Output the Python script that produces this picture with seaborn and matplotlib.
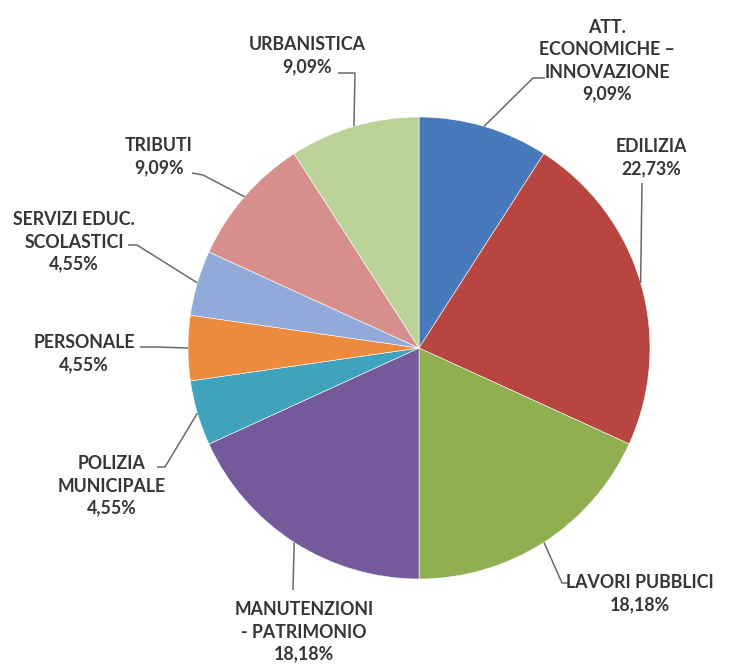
import numpy as np
import matplotlib
matplotlib.use("Agg")
import matplotlib.pyplot as plt
import seaborn as sns

# Share of items per office (percent), clockwise from 12 o'clock
categories = [
    "ATT.\nECONOMICHE –\nINNOVAZIONE",
    "EDILIZIA",
    "LAVORI PUBBLICI",
    "MANUTENZIONI\n- PATRIMONIO",
    "POLIZIA\nMUNICIPALE",
    "PERSONALE",
    "SERVIZI EDUC.\nSCOLASTICI",
    "TRIBUTI",
    "URBANISTICA",
]
shares = [9.09, 22.73, 18.18, 18.18, 4.55, 4.55, 4.55, 9.09, 9.09]
slice_colors = [
    "#4779BB", "#B8453F", "#8FAF50", "#755A9B", "#40A3BD",
    "#EE8A3E", "#91AAD9", "#D68F8D", "#BBD298",
]

# Label layout in figure pixels: text block centre and leader-line path
label_pos = [(607, 61), (651, 158), (640, 594), (304, 632), (112, 486),
             (84, 354), (74, 242), (159, 157), (307, 56)]
leader_path = [
    [(533, 78), (545, 78)],
    [(642, 183)],
    [(562, 583), (568, 583)],
    [(293, 590)],
    [(165, 467), (157, 467)],
    [(157, 347), (140, 347)],
    [(137, 245), (128, 245)],
    [(203, 175), (192, 173)],
    [(355, 73), (338, 73)],
]

sns.set_theme(style="white")
plt.rcParams["font.family"] = ["Lato", "DejaVu Sans"]

W, H = 736, 669
fig = plt.figure(figsize=(W / 100, H / 100), dpi=100)
ax = fig.add_axes([0, 0, 1, 1])

center = (419, 348)
radius = 231
wedges, _ = ax.pie(
    shares, colors=slice_colors, startangle=-90, counterclock=True,
    center=center, radius=radius,
    wedgeprops=dict(edgecolor="white", linewidth=0.4),
)
ax.set_xlim(0, W)
ax.set_ylim(H, 0)
ax.set_aspect("equal")
ax.axis("off")

text_color = "#363636"
line_color = "#6A6A6A"
for w, name, val, (tx, ty), path in zip(wedges, categories, shares,
                                        label_pos, leader_path):
    mid = np.deg2rad((w.theta1 + w.theta2) / 2)
    px = center[0] + radius * np.cos(mid)
    py = center[1] + radius * np.sin(mid)
    xs = [px] + [p[0] for p in path]
    ys = [py] + [p[1] for p in path]
    ax.plot(xs, ys, color=line_color, lw=1.1, solid_capstyle="butt")
    pct = f"{val:.2f}".replace(".", ",") + "%"
    ax.text(tx, ty, f"{name}\n{pct}", ha="center", va="center",
            fontsize=12.8, fontweight="bold", color=text_color,
            linespacing=1.36)

fig.savefig("out.png", dpi=100, facecolor="white")
